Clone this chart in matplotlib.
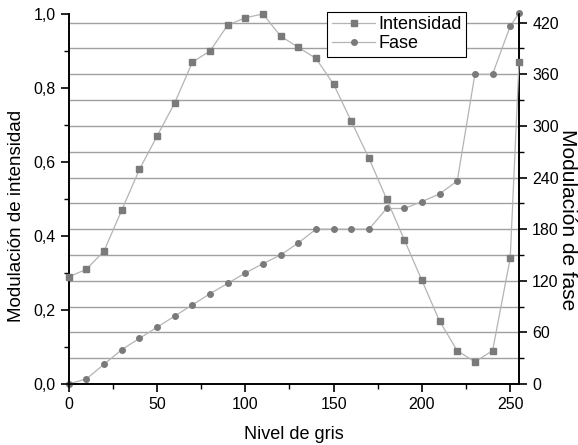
import matplotlib
matplotlib.use("Agg")
import matplotlib.pyplot as plt
from matplotlib.ticker import MultipleLocator, FuncFormatter

plt.rcParams['font.family'] = ['Liberation Sans', 'DejaVu Sans']

x_int = [0, 10, 20, 30, 40, 50, 60, 70, 80, 90, 100, 110, 120, 130, 140, 150,
         160, 170, 180, 190, 200, 210, 220, 230, 240, 250, 255]
intensidad = [0.29, 0.31, 0.36, 0.47, 0.58, 0.67, 0.76, 0.87, 0.90, 0.97, 0.99, 1.00,
              0.94, 0.91, 0.88, 0.81, 0.71, 0.61, 0.50, 0.39, 0.28, 0.17, 0.09, 0.06,
              0.09, 0.34, 0.87]
x_fase = [0, 10, 20, 30, 40, 50, 60, 70, 80, 90, 100, 110, 120, 130, 140, 150,
          160, 170, 180, 190, 200, 210, 220, 230, 240, 250, 255]
fase = [0, 6, 23, 40, 53, 66, 79, 92, 105, 117, 129, 140, 150, 164, 180, 180,
        180, 180, 204, 204, 212, 221, 236, 360, 360, 416, 431]

fig = plt.figure(figsize=(5.78, 4.45), dpi=100)
ax = fig.add_axes([0.119, 0.137, 0.779, 0.8315])
ax2 = ax.twinx()

line_c = '#b4b4b4'
mark_c = '#7a7a7a'

ax.set_xlim(0, 255)
ax.set_ylim(0, 1.0)
ax2.set_ylim(0, 430)

for yv in range(30, 430, 30):
    ax2.axhline(yv, color='#a0a0a0', lw=1.0, zorder=0)

l1, = ax.plot(x_int, intensidad, color=line_c, lw=0.9, marker='s', ms=4,
              mfc=mark_c, mec=mark_c, label='Intensidad', zorder=3, clip_on=False)
l2, = ax2.plot(x_fase, fase, color=line_c, lw=0.9, marker='o', ms=4,
               mfc=mark_c, mec=mark_c, label='Fase', zorder=3, clip_on=False)

ax.set_zorder(ax2.get_zorder() + 1)
ax.patch.set_visible(False)

for a in (ax, ax2):
    a.spines['top'].set_visible(False)
    for s in a.spines.values():
        s.set_linewidth(1.2)

ax.xaxis.set_major_locator(MultipleLocator(50))
ax.xaxis.set_minor_locator(MultipleLocator(25))
ax.yaxis.set_major_locator(MultipleLocator(0.2))
ax.yaxis.set_minor_locator(MultipleLocator(0.1))
ax.yaxis.set_major_formatter(FuncFormatter(lambda v, p: f"{v:.1f}".replace('.', ',')))
ax2.yaxis.set_major_locator(MultipleLocator(60))
ax2.yaxis.set_minor_locator(MultipleLocator(30))

for a in (ax, ax2):
    a.tick_params(which='major', direction='out', length=6, width=1.2, labelsize=11.5)
    a.tick_params(which='minor', direction='out', length=3.5, width=1.0)

ax.set_xlabel('Nivel de gris', fontsize=13, labelpad=10)
ax.set_ylabel('Modulación de intensidad', fontsize=13.5)
ax.yaxis.set_label_coords(-0.097, 0.455)
ax2.set_ylabel('Modulación de fase', fontsize=15, rotation=270, va='center')
ax2.yaxis.set_label_coords(1.1066, 0.445)

leg = ax.legend(handles=[l1, l2], loc='upper right', bbox_to_anchor=(0.882, 1.006),
                fontsize=13, frameon=True, fancybox=False, edgecolor='black',
                framealpha=1, borderpad=0.25, labelspacing=0.1, handlelength=2.4,
                handletextpad=0.15, borderaxespad=0)
leg.get_frame().set_linewidth(0.8)

fig.savefig('out.png', dpi=100)
